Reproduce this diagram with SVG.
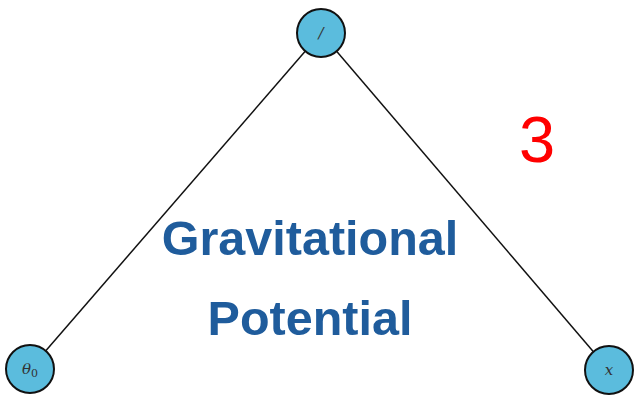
<svg xmlns="http://www.w3.org/2000/svg" width="637" height="396" viewBox="0 0 637 396">
<style>
.node{fill:#5bbcdd;stroke:#111;stroke-width:2}
.lbl{font-family:"DejaVu Serif","Liberation Serif",serif;font-style:italic;font-size:15px;fill:#333;text-anchor:middle}
.edge{stroke:#111;stroke-width:1.5;fill:none}
.title{font-family:"Liberation Sans",Arial,sans-serif;font-weight:bold;font-size:48.5px;fill:#1f5c9c;text-anchor:middle}
</style>
<rect width="637" height="396" fill="#fff"/>
<g id="edges">
<line class="edge" x1="321" y1="33" x2="30" y2="369"/>
<line class="edge" x1="321" y1="33" x2="609" y2="370"/>
</g>
<g id="n-div"><circle class="node" cx="321" cy="33" r="24"/><text class="lbl" x="321" y="38">/</text></g>
<g id="n-theta0"><circle class="node" cx="30" cy="369" r="24"/><text class="lbl" x="30" y="374">θ<tspan font-style="normal" font-size="11" dy="3">0</tspan></text></g>
<g id="n-x"><circle class="node" cx="609" cy="370" r="24"/><text class="lbl" x="609" y="375">x</text></g>
<text class="title" x="310" y="255">Gravitational</text>
<text class="title" x="310" y="335">Potential</text>
<text x="537" y="162" font-family="Liberation Sans,Arial,sans-serif" font-size="65" fill="#ff0000" text-anchor="middle">3</text>
</svg>
